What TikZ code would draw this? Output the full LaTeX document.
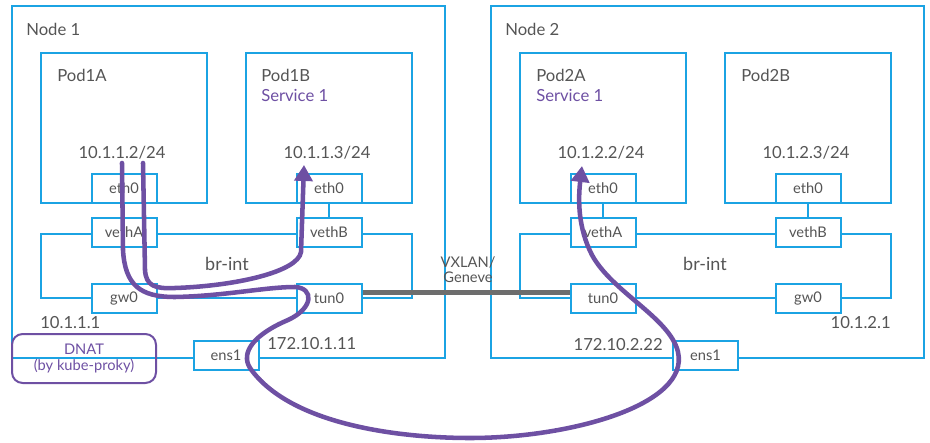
\documentclass[tikz,border=0pt]{standalone}
\usepackage{fontspec}
\setmainfont{Lato}
\usepackage{tikz}
\usetikzlibrary{positioning, arrows.meta, calc}
\definecolor{ovs_blue}{HTML}{1BA3E3}
\definecolor{ovs_purple}{HTML}{6E50A3}
\definecolor{ovs_text}{HTML}{555555}
\definecolor{ovs_gray}{HTML}{6D6D6D}

\begin{document}
\begin{tikzpicture}[x=0.75pt, y=-0.75pt,
            hostbox/.style={rectangle, draw=ovs_blue, line width=1.5pt, minimum width=324.75pt, minimum height=264pt},
            podbox/.style={rectangle, draw=ovs_blue, line width=1.5pt, minimum width=124.5pt, minimum height=112.5pt},
            bridgebox/.style={rectangle, draw=ovs_blue, line width=1.5pt, minimum width=278.25pt, minimum height=48pt},
            portbox/.style={rectangle, draw=ovs_blue, fill=white, line width=1.5pt, minimum width=48.75pt, minimum height=21.75pt, inner sep=0pt, text=ovs_text, font=\fontsize{11}{12}\selectfont},
            lbl/.style={inner sep=0pt, text=ovs_text, font=\fontsize{12.5}{14}\selectfont},
            svc/.style={lbl, text=ovs_purple},
            link/.style={draw=ovs_blue, line width=1.5pt},
            tunnel/.style={draw=ovs_gray, line width=3.75pt},
            flow/.style={draw=ovs_purple, line width=3.4pt, line cap=round, -{Triangle[length=12pt, width=13.5pt]}},
            dnatbox/.style={rectangle, rounded corners=8pt, draw=ovs_purple, line width=1.5pt, minimum width=108pt, minimum height=36.75pt, align=center, text=ovs_purple, font=\fontsize{11}{11.5}\selectfont}
        ]
            \useasboundingbox (0,0) rectangle (930,442);

            % Hosts
            \node[hostbox] (node1) at (228.5,182) {};
            \node[hostbox] (node2) at (707.5,182) {};

            % Bridges
            \node[bridgebox] (brint1) at (226.5,266) {};
            \node[bridgebox] (brint2) at (705.5,266) {};

            % Pods
            \node[podbox] (pod1a) at (124,128) {};
            \node[podbox] (pod1b) at (329,128) {};
            \node[podbox] (pod2a) at (603,128) {};
            \node[podbox] (pod2b) at (808,128) {};

            % Ports of Node 1
            \node[portbox, anchor=south] (eth1a) at (pod1a.south) {eth0};
            \node[portbox, anchor=south] (eth1b) at (pod1b.south) {eth0};
            \node[portbox, below=9.75pt of eth1a] (veth1a) {vethA};
            \node[portbox, below=9.75pt of eth1b] (veth1b) {vethB};
            \node[portbox, below=26.25pt of veth1a] (gw1) {gw0};
            \node[portbox, below=26.25pt of veth1b] (tun1) {tun0};
            \node[portbox] (ens1a) at (226,355.5) {ens1};

            % Ports of Node 2
            \node[portbox, anchor=south] (eth2a) at (pod2a.south) {eth0};
            \node[portbox, anchor=south] (eth2b) at (pod2b.south) {eth0};
            \node[portbox, below=9.75pt of eth2a] (veth2a) {vethA};
            \node[portbox, below=9.75pt of eth2b] (veth2b) {vethB};
            \node[portbox, below=26.25pt of veth2a] (tun2) {tun0};
            \node[portbox, below=26.25pt of veth2b] (gw2) {gw0};
            \node[portbox] (ens2a) at (705.5,355.5) {ens1};

            % eth0 to veth
            \draw[link] (eth1a) -- (veth1a);
            \draw[link] (eth1b) -- (veth1b);
            \draw[link] (eth2a) -- (veth2a);
            \draw[link] (eth2b) -- (veth2b);

            % Labels
            \node[lbl, anchor=west] (name1) at (26,29) {Node 1};
            \node[lbl, anchor=west] (name2) at (505,29) {Node 2};
            \node[lbl, anchor=west] (name1a) at (57,75) {Pod1A};
            \node[lbl, anchor=west] (name1b) at (261,75) {Pod1B};
            \node[svc, anchor=west] (svc1b) at (261,95) {Service 1};
            \node[lbl, anchor=west] (name2a) at (536,75) {Pod2A};
            \node[svc, anchor=west] (svc2a) at (536,95) {Service 1};
            \node[lbl, anchor=west] (name2b) at (741,75) {Pod2B};
            \node[lbl] (ip1a) at (122,153) {10.1.1.2/24};
            \node[lbl] (ip1b) at (327,153) {10.1.1.3/24};
            \node[lbl] (ip2a) at (601,153) {10.1.2.2/24};
            \node[lbl] (ip2b) at (806,153) {10.1.2.3/24};
            \node[lbl, font=\fontsize{13.5}{15}\selectfont] (brname1) at (227,264) {br-int};
            \node[lbl, font=\fontsize{13.5}{15}\selectfont] (brname2) at (705,264) {br-int};
            \node[lbl, anchor=west] (gwip1) at (40,323) {10.1.1.1};
            \node[lbl, anchor=east] (gwip2) at (891,323) {10.1.2.1};
            \node[lbl, anchor=west] (hostip1) at (267,344) {172.10.1.11};
            \node[lbl, anchor=east] (hostip2) at (663,345) {172.10.2.22};

            % Tunnel
            \draw[tunnel] ($(tun1.east)+(0,-6)$) -- ($(tun2.west)+(0,-6)$);
            \node[lbl, align=center, font=\fontsize{11}{11.25}\selectfont] (vxlan) at (468,269.5) {VXLAN/\\Geneve};

            % DNAT
            \node[dnatbox] (dnat) at (84,358.5) {DNAT\\(by kube-proky)};

            % Traffic
            \coordinate (src1) at (143,163);
            \coordinate (src2) at (122,163);
            \coordinate (dst1) at (304,165);
            \coordinate (dst2) at (582,166);
            \draw[flow] (src1) -- (145,270) .. controls (146,286) and (155,289) .. (175,288)
                .. controls (235,286) and (298,272) .. (301,252) -- (dst1);
            \draw[flow] (src2) -- (123,250) .. controls (125,285) and (140,297) .. (175,297)
                .. controls (225,296) and (265,287) .. (295,287)
                .. controls (314,288) and (314,308) .. (288,320)
                .. controls (255,334) and (240,352) .. (250,368)
                .. controls (290,425) and (400,438) .. (470,438)
                .. controls (570,438) and (690,405) .. (678,352)
                .. controls (670,318) and (612,292) .. (592,255)
                .. controls (578,228) and (578,200) .. (dst2);
        \end{tikzpicture}
\end{document}
